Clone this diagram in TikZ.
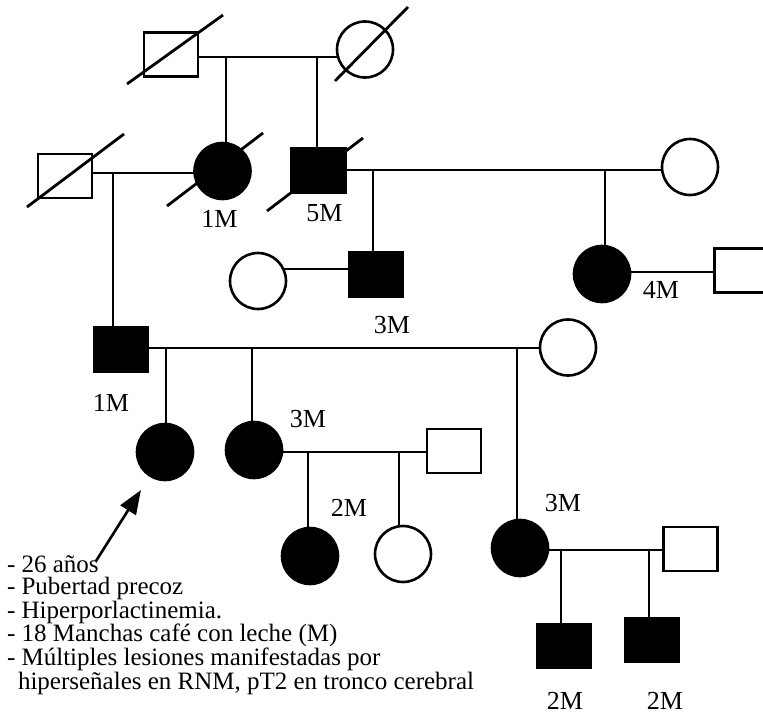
\documentclass[tikz,border=0pt]{standalone}
\usepackage{fontspec}
\setmainfont{Liberation Serif}
\usetikzlibrary{arrows.meta,calc,backgrounds}
\begin{document}
\begin{tikzpicture}[x=1pt,y=-1pt,
  every node/.style={inner sep=0pt, outer sep=0pt},
  male/.style={draw, rectangle, line width=2.6pt, minimum width=54pt, minimum height=44pt, fill=white},
  female/.style={draw, circle, line width=2.6pt, minimum size=56pt, fill=white},
  aff/.style={fill=black},
  link/.style={line width=2.5pt},
  dead/.style={line width=2.8pt},
  lbl/.style={font=\fontsize{26}{26}\selectfont},
  note/.style={font=\fontsize{25}{21.5}\selectfont, align=left, anchor=north west},
  pointer/.style={line width=2.6pt, -{Triangle[length=24pt,width=18pt]}, shorten >=17pt}]
\clip (0,0) rectangle (763,720);
% generation I
\node[male] (gf) at (171,54.5) {};
\node[female] (gm) at (365,49.5) {};
% generation II
\node[male] (h2) at (65,176) {};
\node[female,aff] (g1m) at (222.5,171) {};
\node[male,aff] (g5m) at (318.5,170.5) {};
\node[female] (w5) at (690,167) {};
\node[female] (w3) at (258,281) {};
\node[male,aff] (g3m) at (376,274.5) {};
\node[female,aff] (g4m) at (602,274) {};
\node[male] (h4) at (741.5,270.5) {};
% generation III
\node[male,aff] (f3) at (121,349.5) {};
\node[female] (m3) at (568,347.5) {};
\node[female,aff] (pro) at (165,452) {};
\node[female,aff] (sis) at (254,450) {};
\node[male] (hs) at (454,451) {};
\node[female,aff] (d3) at (520,548) {};
\node[male] (hd) at (690.5,549) {};
% generation IV
\node[female,aff] (n1) at (310,556) {};
\node[female] (n2) at (403,554) {};
\node[male,aff] (s1) at (564,646) {};
\node[male,aff] (s2) at (652,640) {};
% coordinates for lines
\coordinate (yI) at (0,57);
\coordinate (dA) at (226,57);
\coordinate (dB) at (317,57);
\coordinate (yII) at (0,173);
\coordinate (dC) at (113,173);
\coordinate (yIIb) at (0,170);
\coordinate (dD) at (373,170);
\coordinate (dE) at (605,170);
\coordinate (yW) at (0,269);
\coordinate (yF) at (0,272);
\coordinate (yIII) at (0,348);
\coordinate (dF) at (166,348);
\coordinate (dG) at (252,348);
\coordinate (dH) at (517,348);
\coordinate (yS) at (0,452);
\coordinate (dI) at (308,452);
\coordinate (dJ) at (399,452);
\coordinate (yD) at (0,550);
\coordinate (dK) at (561,550);
\coordinate (dL) at (649,550);
\coordinate (atail) at (96,561);
\begin{pgfonlayer}{background}
\draw[link] (gf |- yI) -- (gm |- yI);
\draw[link] (dA) -- (dA |- g1m);
\draw[link] (dB) -- (dB |- g5m);
\draw[link] (h2 |- yII) -- (g1m |- yII);
\draw[link] (dC) -- (dC |- f3);
\draw[link] (g5m |- yIIb) -- (w5 |- yIIb);
\draw[link] (dD) -- (dD |- g3m);
\draw[link] (dE) -- (dE |- g4m);
\draw[link] (w3 |- yW) -- (g3m |- yW);
\draw[link] (g4m |- yF) -- (h4 |- yF);
\draw[link] (f3 |- yIII) -- (m3 |- yIII);
\draw[link] (dF) -- (dF |- pro);
\draw[link] (dG) -- (dG |- sis);
\draw[link] (dH) -- (dH |- d3);
\draw[link] (sis |- yS) -- (hs |- yS);
\draw[link] (dI) -- (dI |- n1);
\draw[link] (dJ) -- (dJ |- n2);
\draw[link] (d3 |- yD) -- (hd |- yD);
\draw[link] (dK) -- (dK |- s1);
\draw[link] (dL) -- (dL |- s2);
\end{pgfonlayer}
% deceased slashes
\draw[dead] ($(gf.center)+(-44,29.5)$) -- ($(gf.center)+(52,-39.5)$);
\draw[dead] ($(gm.center)+(-30,31.5)$) -- ($(gm.center)+(43,-42.5)$);
\draw[dead] ($(h2.center)+(-38,31)$) -- ($(h2.center)+(59,-42)$);
\draw[dead] ($(g1m.center)+(-55.5,35)$) -- ($(g1m.center)+(40.5,-38)$);
\draw[dead] ($(g5m.center)+(-51.5,40.5)$) -- ($(g5m.center)+(44.5,-32.5)$);
% labels
\node[lbl] (l1) at (219.5,219) {1M};
\node[lbl] (l2) at (324.5,213) {5M};
\node[lbl] (l3) at (392,325) {3M};
\node[lbl] (l4) at (661,290) {4M};
\node[lbl] (l5) at (111,403) {1M};
\node[lbl] (l6) at (308,419.5) {3M};
\node[lbl] (l7) at (349,508) {2M};
\node[lbl] (l8) at (563,503) {3M};
\node[lbl] (l9) at (565,701) {2M};
\node[lbl] (l10) at (665,701) {2M};
% proband arrow
\draw[pointer] (atail) -- (pro);
% notes
\node[note] (notes) at (7,556) {- 26 años\\- Pubertad precoz\\- Hiperporlactinemia.\\- 18 Manchas café con leche (M)\\- Múltiples lesiones manifestadas por\\\hspace*{11pt}hiperseñales en RNM, pT2 en tronco cerebral};
\end{tikzpicture}
\end{document}
